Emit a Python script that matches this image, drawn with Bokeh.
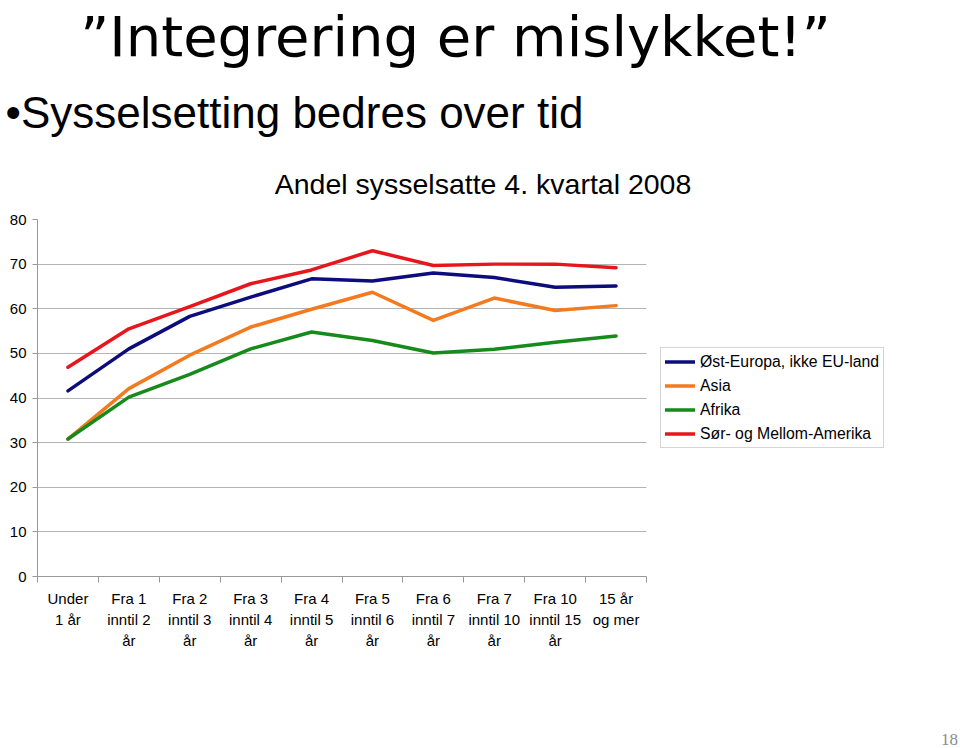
from bokeh.plotting import figure
from bokeh.models import Range1d, FixedTicker, Legend, LegendItem, LinearAxis
from bokeh.embed import file_html
from bokeh.resources import INLINE

# ---- data ----
categories = ["Under\n1 år", "Fra 1\ninntil 2\når", "Fra 2\ninntil 3\når", "Fra 3\ninntil 4\når",
              "Fra 4\ninntil 5\når", "Fra 5\ninntil 6\når", "Fra 6\ninntil 7\når",
              "Fra 7\ninntil 10\når", "Fra 10\ninntil 15\når", "15 år\nog mer"]
ost_europa = [41.6, 51.0, 58.3, 62.6, 66.7, 66.2, 68.0, 67.0, 64.8, 65.1]
asia = [30.8, 42.1, 49.6, 55.9, 59.9, 63.7, 57.4, 62.4, 59.6, 60.7]
afrika = [30.8, 40.2, 45.3, 51.0, 54.8, 52.9, 50.1, 50.9, 52.5, 53.9]
sor_mellom_amerika = [46.9, 55.5, 60.5, 65.6, 68.7, 73.0, 69.7, 70.0, 70.0, 69.2]
series_names = ["Øst-Europa, ikke EU-land", "Asia", "Afrika", "Sør- og Mellom-Amerika"]
series_colors = ["#0c0c7c", "#f47a20", "#168a1a", "#e8161c"]
y_ticks = [0, 10, 20, 30, 40, 50, 60, 70, 80]

title_text = "\u201dIntegrering er mislykket!\u201d"
subtitle_text = "\u2022Sysselsetting bedres over tid"
chart_title = "Andel sysselsatte 4. kvartal 2008"
page_number = "18"

FONT = "Liberation Sans"
W, H = 960, 748
PLOT_L, PLOT_R, PLOT_T, PLOT_B = 37, 646, 219, 576   # category/value area
N = len(categories)
X_END = N * (W - PLOT_L) / (PLOT_R - PLOT_L)         # frame runs to canvas right edge


def px_to_x(px):
    return (px - PLOT_L) / (PLOT_R - PLOT_L) * N


p = figure(width=W, height=H, output_backend="svg", toolbar_location=None,
           min_border_left=PLOT_L, min_border_right=0,
           min_border_top=PLOT_T, min_border_bottom=H - PLOT_B, title=None)
p.x_range = Range1d(0, X_END)
p.y_range = Range1d(0, 80)
p.outline_line_color = None
p.background_fill_color = "white"
p.border_fill_color = "white"

xs = [i + 0.5 for i in range(N)]
renderers = []
for vals, col in zip([ost_europa, asia, afrika, sor_mellom_amerika], series_colors):
    r = p.line(xs, vals, line_color=col, line_width=3.5, line_join="round", line_cap="round")
    renderers.append(r)

xa = p.xaxis[0]
xa.bounds = (0, N)
xa.ticker = FixedTicker(ticks=xs, minor_ticks=list(range(N + 1)))
xa.major_label_overrides = {x: c for x, c in zip(xs, categories)}
xa.major_tick_in = 0
xa.major_tick_out = 0
xa.minor_tick_in = 0
xa.minor_tick_out = 6
xa.minor_tick_line_color = "#999999"
xa.axis_line_color = "#999999"
xa.major_label_text_font = FONT
xa.major_label_text_font_size = "15px"
xa.major_label_text_color = "black"
xa.major_label_text_line_height = 1.25
xa.major_label_standoff = 7

ya = p.yaxis[0]
ya.ticker = FixedTicker(ticks=y_ticks)
ya.minor_tick_line_color = None
ya.major_tick_in = 0
ya.major_tick_out = 5
ya.major_tick_line_color = "#999999"
ya.axis_line_color = "#999999"
ya.major_label_text_font = FONT
ya.major_label_text_font_size = "15px"
ya.major_label_text_color = "black"
ya.major_label_standoff = 6

p.xgrid.grid_line_color = None
try:
    p.ygrid.cross_bounds = (0, N)
    p.ygrid.grid_line_color = "#b3b3b3"
    p.ygrid.grid_line_width = 1
except Exception:
    p.ygrid.grid_line_color = None
    p.segment(x0=[0] * len(y_ticks[1:]), x1=[N] * len(y_ticks[1:]),
              y0=y_ticks[1:], y1=y_ticks[1:], line_color="#b3b3b3", line_width=1)


def text_axis(text, center_px, font, size, standoff, side, color="black"):
    t = px_to_x(center_px)
    ax = LinearAxis(ticker=FixedTicker(ticks=[t], minor_ticks=[]),
                    major_label_overrides={t: text},
                    axis_line_color=None, major_tick_line_color=None,
                    minor_tick_line_color=None, major_tick_in=0, major_tick_out=0,
                    minor_tick_in=0, minor_tick_out=0,
                    major_label_text_font=font, major_label_text_font_size=size,
                    major_label_text_color=color, major_label_standoff=standoff)
    p.add_layout(ax, side)


# texts above the chart, stacked upward from the plot area
text_axis(chart_title, 482.5, FONT, "28.5px", 20, "above")
text_axis(subtitle_text, 294, FONT, "44px", 28, "above")
text_axis(title_text, 455, "DejaVu Sans", "56px", 16, "above")

# page number below the category labels
text_axis(page_number, 949, "Liberation Serif", "17px", 81, "below", color="#8c8c8c")

# legend (inside the wide frame, right of the value area)
items = [LegendItem(label=n, renderers=[r]) for n, r in zip(series_names, renderers)]
legend = Legend(items=items, location=(660 - PLOT_L, PLOT_B - 448), orientation="vertical",
                label_text_font=FONT, label_text_font_size="15.8px", label_text_color="black",
                glyph_width=30, glyph_height=19, label_height=19, spacing=5,
                padding=4, margin=0, label_standoff=5,
                border_line_color="#aaaaaa", border_line_width=1,
                background_fill_color="white", background_fill_alpha=1)
p.add_layout(legend, "center")

open("out.html", "w").write(file_html(p, INLINE))
